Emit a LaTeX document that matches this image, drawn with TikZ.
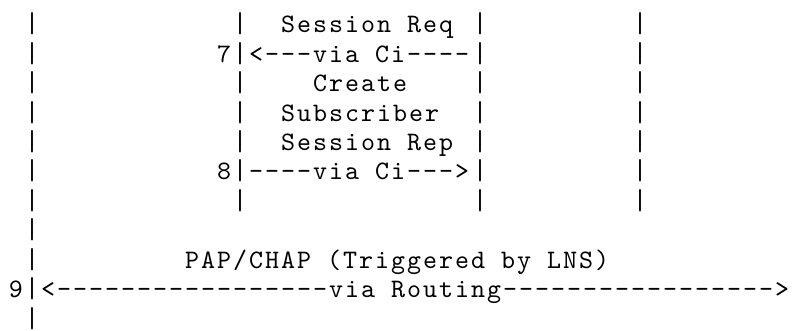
\documentclass[tikz,border=0pt]{standalone}
\usepackage{graphicx}
\usepackage{fontspec}
\setmonofont[LetterSpace=7.5]{lmmono10-regular.otf}
\newcommand\vb{\scalebox{1}[1.08]{|}}
\tikzset{ascii/.style={anchor=base west, inner sep=0pt, outer sep=0pt, font=\ttfamily\fontsize{26.67pt}{29.4pt}\selectfont}}
\newcommand\asc[4]{\node[ascii] (#1) at ({(9+16*#2)*1pt}, {-(33+29.4*(#3-1))*1pt}) {#4};}
\begin{document}
\begin{tikzpicture}
\useasboundingbox (0,0) rectangle (792pt,-331pt);
% line 1
\asc{a1}{1}{1}{\vb}\asc{b1}{14}{1}{\vb}\asc{t1}{17}{1}{Session Req}\asc{c1}{29}{1}{\vb}\asc{d1}{39}{1}{\vb}
% line 2
\asc{a2}{1}{2}{\vb}\asc{n7}{13}{2}{7}\asc{b2}{14}{2}{\vb}\asc{m7}{15}{2}{<---via Ci----}\asc{c2}{29}{2}{\vb}\asc{d2}{39}{2}{\vb}
% line 3
\asc{a3}{1}{3}{\vb}\asc{b3}{14}{3}{\vb}\asc{t3}{19}{3}{Create}\asc{c3}{29}{3}{\vb}\asc{d3}{39}{3}{\vb}
% line 4
\asc{a4}{1}{4}{\vb}\asc{b4}{14}{4}{\vb}\asc{t4}{17}{4}{Subscriber}\asc{c4}{29}{4}{\vb}\asc{d4}{39}{4}{\vb}
% line 5
\asc{a5}{1}{5}{\vb}\asc{b5}{14}{5}{\vb}\asc{t5}{17}{5}{Session Rep}\asc{c5}{29}{5}{\vb}\asc{d5}{39}{5}{\vb}
% line 6
\asc{a6}{1}{6}{\vb}\asc{n8}{13}{6}{8}\asc{b6}{14}{6}{\vb}\asc{m8}{15}{6}{----via Ci--->}\asc{c6}{29}{6}{\vb}\asc{d6}{39}{6}{\vb}
% line 7
\asc{a7}{1}{7}{\vb}\asc{b7}{14}{7}{\vb}\asc{c7}{29}{7}{\vb}\asc{d7}{39}{7}{\vb}
% line 8
\asc{a8}{1}{8}{\vb}
% line 9
\asc{a9}{1}{9}{\vb}\asc{t9}{11}{9}{PAP/CHAP (Triggered by LNS)}
% line 10
\asc{n9}{0}{10}{9}\asc{a10}{1}{10}{\vb}\asc{m9}{2}{10}{<-----------------via Routing----------------->}
% line 11
\asc{a11}{1}{11}{\vb}
\end{tikzpicture}
\end{document}
